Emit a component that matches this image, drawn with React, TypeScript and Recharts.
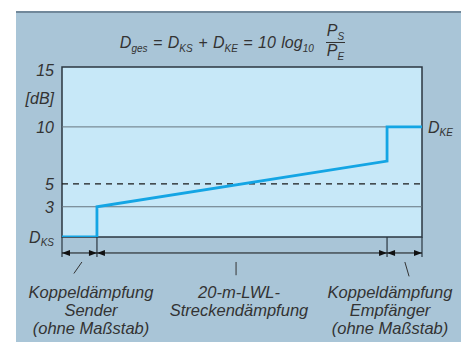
import { LineChart, Line, XAxis, YAxis, ReferenceLine, ReferenceArea, LabelList } from 'recharts'

// schematic position along the link (sender coupling | 20 m fibre | receiver coupling)
const POS_X = [0, 1, 1, 9.3, 9.3, 10.3]
const DAMPING_DB = [0.35, 0.35, 3, 7, 10, 10]

const Y_TICKS = [0.35, 3, 5, 10, 12.5, 15]
const Y_TICK_LABELS = ['D|KS', '3', '5', '10', '[dB]', '15']
const SOLID_GRID = [3, 10]
const DASHED_GRID = [5]

const SEGMENT_BOUNDS = [0, 1, 9.3, 10.3]
const DIM_Y = -1.05
const EXT_BOTTOM = -1.4
const LEADERS = [
  { x1: 0.57, y1: -1.84, x2: 0.34, y2: -2.85 },
  { x1: 4.98, y1: -1.84, x2: 4.98, y2: -3.0 },
  { x1: 9.81, y1: -1.84, x2: 9.93, y2: -3.1 },
]
const CAPTIONS = [
  ['Koppeldämpfung', 'Sender', '(ohne Maßstab)'],
  ['20-m-LWL-', 'Streckendämpfung'],
  ['Koppeldämpfung', 'Empfänger', '(ohne Maßstab)'],
]

const data = POS_X.map((x, i) => ({ x, db: DAMPING_DB[i] }))

const FONT = '"Liberation Sans", Arial, sans-serif'
const INK = '#2b3640'
const CYAN = '#14a5e4'

function YTick({ x, y, payload }: any) {
  const label = Y_TICK_LABELS[Y_TICKS.indexOf(payload.value)] ?? ''
  const [main, sub] = label.split('|')
  return (
    <text x={x} y={y + 6} textAnchor="end" fontFamily={FONT} fontStyle="italic" fontSize={16} fill="#333">
      {main}
      {sub && <tspan fontSize={10} dy={3}>{sub}</tspan>}
    </text>
  )
}

function DimShape({ x1, y1, x2 }: any) {
  const a = 8, h = 3
  return (
    <g fill="#111" stroke="#111">
      <line x1={x1} y1={y1} x2={x2} y2={y1} strokeWidth={1} />
      <polygon points={`${x1},${y1} ${x1 + a},${y1 - h} ${x1 + a},${y1 + h}`} stroke="none" />
      <polygon points={`${x2},${y1} ${x2 - a},${y1 - h} ${x2 - a},${y1 + h}`} stroke="none" />
    </g>
  )
}

function EndLabel({ x, y, index }: any) {
  if (index !== data.length - 1) return null
  return (
    <text x={x + 6} y={y + 6} fontFamily={FONT} fontStyle="italic" fontSize={16} fill="#333">
      D<tspan fontSize={10} dy={3}>KE</tspan>
    </text>
  )
}

const sub: React.CSSProperties = { fontSize: 10, position: 'relative', top: 4 }

export default function App() {
  return (
    <div style={{ position: 'relative', width: 469, height: 342, background: '#fff', fontFamily: FONT }}>
      <style>{'body{margin:0}'}</style>
      <div
        style={{
          position: 'absolute', left: 16, top: 11, width: 445, height: 331,
          background: '#a9c5d7', borderTop: '2px solid #71889a', boxSizing: 'border-box',
        }}
      />
      {/* formula */}
      <div
        style={{
          position: 'absolute', left: 0, width: 469, top: 24, display: 'flex', justifyContent: 'center',
          alignItems: 'center', fontStyle: 'italic', fontSize: 16, color: '#333', paddingRight: 4, boxSizing: 'border-box',
        }}
      >
        <span style={{ wordSpacing: 1 }}>
          D<span style={sub}>ges</span> = D<span style={sub}>KS</span> + D<span style={sub}>KE</span> = 10 log
          <span style={sub}>10</span>
        </span>
        <span
          style={{
            display: 'inline-flex', flexDirection: 'column', alignItems: 'center', marginLeft: 12,
            lineHeight: '16px', position: 'relative', top: -1,
          }}
        >
          <span style={{ borderBottom: '1.5px solid #333', padding: '0 1px 1px' }}>
            P<span style={sub}>S</span>
          </span>
          <span>
            P<span style={sub}>E</span>
          </span>
        </span>
      </div>
      <div style={{ position: 'absolute', left: 0, top: 0 }}>
        <LineChart width={469} height={342} data={data} margin={{ top: 67, right: 47, bottom: 105, left: 0 }}>
          <XAxis dataKey="x" type="number" domain={[0, 10.3]} hide />
          <YAxis
            width={62}
            type="number"
            domain={[0.35, 15.25]}
            ticks={Y_TICKS}
            interval={0}
            axisLine={false}
            tickLine={false}
            tick={<YTick />}
            allowDataOverflow
          />
          <ReferenceArea x1={0} x2={10.3} y1={0.35} y2={15.25} fill="#c7e8f8" fillOpacity={1} stroke={INK} strokeWidth={1.5} />
          {SOLID_GRID.map(v => (
            <ReferenceLine key={v} y={v} stroke="#66757f" strokeWidth={1} />
          ))}
          {DASHED_GRID.map(v => (
            <ReferenceLine key={v} y={v} stroke="#1a1a1a" strokeWidth={1.2} strokeDasharray="6 5" />
          ))}
          {SEGMENT_BOUNDS.map(b => (
            <ReferenceLine
              key={'e' + b}
              segment={[{ x: b, y: 0.35 }, { x: b, y: EXT_BOTTOM }]}
              stroke={INK}
              strokeWidth={1.2}
              ifOverflow="visible"
            />
          ))}
          {SEGMENT_BOUNDS.slice(1).map((b, i) => (
            <ReferenceLine
              key={'d' + b}
              segment={[{ x: SEGMENT_BOUNDS[i], y: DIM_Y }, { x: b, y: DIM_Y }]}
              ifOverflow="visible"
              shape={<DimShape />}
            />
          ))}
          {LEADERS.map((l, i) => (
            <ReferenceLine
              key={'l' + i}
              segment={[{ x: l.x1, y: l.y1 }, { x: l.x2, y: l.y2 }]}
              stroke="#333"
              strokeWidth={1}
              ifOverflow="visible"
            />
          ))}
          <Line
            type="linear"
            dataKey="db"
            stroke={CYAN}
            strokeWidth={2.8}
            dot={false}
            isAnimationActive={false}
          >
            <LabelList dataKey="db" content={<EndLabel />} />
          </Line>
        </LineChart>
      </div>
      {/* captions */}
      {CAPTIONS.map((lines, i) => (
        <div
          key={i}
          style={{
            position: 'absolute', top: 283, left: [91, 239, 390][i] - 80, width: 160, textAlign: 'center',
            fontStyle: 'italic', fontSize: 16.5, lineHeight: '18px', color: '#333',
          }}
        >
          {lines.map(t => (
            <div key={t}>{t}</div>
          ))}
        </div>
      ))}
    </div>
  )
}
